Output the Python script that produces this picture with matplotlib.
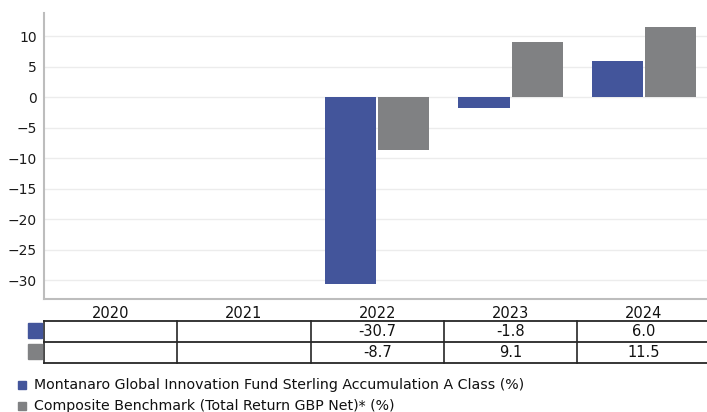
import numpy as np
import matplotlib
from matplotlib import pyplot as plt
from matplotlib.patches import Rectangle

matplotlib.use('Agg')

# 数据
years = ['2020', '2021', '2022', '2023', '2024']
fund = [None, None, -30.7, -1.8, 6.0]
bench = [None, None, -8.7, 9.1, 11.5]
series_names = ['Montanaro Global Innovation Fund Sterling Accumulation A Class (%)',
                'Composite Benchmark (Total Return GBP Net)* (%)']
colors = ['#43559b', '#808183']
yticks = [-30, -25, -20, -15, -10, -5, 0, 5, 10]

W, H = 707, 412
plt.rcParams['font.family'] = ['DejaVu Sans']
plt.rcParams['font.size'] = 10

fig = plt.figure(figsize=(W / 100, H / 100), dpi=100)


# 像素 -> 图形坐标
def fx(px):
    return px / W


def fy(py):
    return 1 - py / H


ax = fig.add_axes([fx(44), fy(299), fx(663), (299 - 13) / H])
x = np.arange(len(years))
fv = np.array([np.nan if v is None else v for v in fund])
bv = np.array([np.nan if v is None else v for v in bench])
ax.bar(x - 0.199, fv, width=0.383, color=colors[0], zorder=3)
ax.bar(x + 0.199, bv, width=0.383, color=colors[1], zorder=3)

ax.set_xlim(-0.5, -0.5 + 663 / 133.3)
ax.set_ylim(-33.1, 13.8)
ax.set_yticks(yticks)
ax.set_yticklabels([f'{t}'.replace('-', '\u2212') for t in yticks], fontsize=10, color='#1a1a1a')
ax.set_xticks([])
ax.tick_params(axis='y', length=0, pad=5)
ax.grid(axis='y', color='#ececec', linewidth=1, zorder=0)
for s in ['top', 'right']:
    ax.spines[s].set_visible(False)
ax.spines['left'].set_color('#bdbdbd')
ax.spines['left'].set_linewidth(1.5)
ax.spines['bottom'].set_color('#bdbdbd')
ax.spines['bottom'].set_linewidth(1.5)

# 表格
tab = fig.add_axes([fx(44), fy(363), fx(663), (363 - 320.7) / H])
tab.set_xlim(ax.get_xlim())
tab.set_ylim(0, 2)
tab.axis('off')
x0, x1 = ax.get_xlim()
for yy in [0, 1, 2]:
    tab.plot([x0, x1], [yy, yy], color='#262626', lw=1.3, clip_on=False)
for i in range(len(years)):
    tab.plot([i - 0.5, i - 0.5], [0, 2], color='#262626', lw=1.2, clip_on=False)
    tab.text(i, 2.36, years[i], ha='center', va='center', fontsize=10.5, color='#111111')
    for r, vals in enumerate([fund, bench]):
        if vals[i] is not None:
            tab.text(i, 1.5 - r, f'{vals[i]:.1f}', ha='center', va='center',
                     fontsize=10.5, color='#111111')

# 表格左侧色块
for r, c in enumerate(colors):
    top = 323 + r * 21
    fig.add_artist(Rectangle((fx(28), fy(top + 15)), fx(14), 15 / H, color=c,
                             transform=fig.transFigure))

# 图例
for r, (name, c) in enumerate(zip(series_names, colors)):
    cy = 385 + r * 21
    fig.add_artist(Rectangle((fx(18), fy(cy + 4)), fx(8), 8 / H, color=c,
                             transform=fig.transFigure))
    fig.text(fx(34), fy(cy), name, ha='left', va='center', fontsize=10.2, color='#111111')

fig.savefig('out.png', dpi=100)
plt.close()
